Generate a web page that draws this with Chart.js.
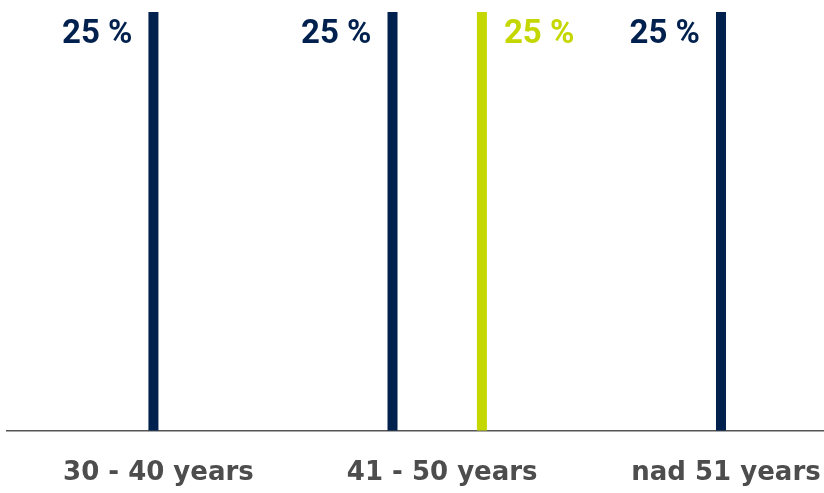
<!DOCTYPE html>
<html>
<head>
<meta charset="utf-8">
<script src="https://cdn.jsdelivr.net/npm/chart.js@4/dist/chart.umd.min.js"></script>
<style>
  html, body { margin: 0; padding: 0; background: #fff; }
  #wrap { width: 824px; height: 493px; }
</style>
</head>
<body>
<div id="wrap"><canvas id="myChart"></canvas></div>
<script>
// data
var categories = ['30 - 40 years', '41 - 50 years', 'nad 51 years'];
var navyValues = [25, 25, 25];
var greenValues = [null, 25, null];

var NAVY = '#00204e';
var GREEN = '#c5d700';

// "25 %" labels beside the top of each bar
var valueLabels = {
    id: 'valueLabels',
    afterDatasetsDraw: function (chart) {
        var ctx = chart.ctx;
        ctx.save();
        ctx.font = 'bold 33px Roboto';
        ctx.textBaseline = 'alphabetic';
        chart.data.datasets.forEach(function (ds, di) {
            var meta = chart.getDatasetMeta(di);
            meta.data.forEach(function (bar, i) {
                var v = ds.data[i].y;
                if (v == null) return;
                var onLeft = ds.labelSide === 'left';
                ctx.fillStyle = ds.backgroundColor;
                ctx.textAlign = onLeft ? 'right' : 'left';
                var x = onLeft ? bar.x - bar.width / 2 - 16 : bar.x + bar.width / 2 + 17;
                ctx.fillText(v + ' %', x, bar.y + 31);
            });
        });
        ctx.restore();
    }
};

var ctx = document.getElementById('myChart');
var myChart = new Chart(ctx, {
    type: 'bar',
    data: {
        datasets: [{
            data: categories.map(function (c, i) { return { x: i, y: navyValues[i] }; }),
            backgroundColor: NAVY,
            labelSide: 'left'
        }, {
            data: categories.map(function (c, i) { return { x: i, y: greenValues[i] }; }),
            backgroundColor: GREEN,
            labelSide: 'right'
        }]
    },
    options: {
        responsive: true,
        maintainAspectRatio: false,
        animation: false,
        layout: { padding: { top: 12, left: 7, right: 0, bottom: 2 } },
        datasets: {
            bar: {
                skipNull: true,
                categoryPercentage: 0.63,
                barPercentage: 0.5,
                maxBarThickness: 10,
                borderWidth: 0
            }
        },
        plugins: {
            legend: { display: false },
            tooltip: { enabled: false }
        },
        scales: {
            x: {
                type: 'linear',
                offset: false,
                min: -0.516,
                max: 2.363,
                afterBuildTicks: function (scale) {
                    scale.ticks = categories.map(function (c, i) { return { value: i }; });
                },
                grid: {
                    display: true,
                    drawOnChartArea: false,
                    drawTicks: true,
                    tickLength: 25,
                    color: 'rgba(0,0,0,0)'
                },
                border: { display: true, color: '#555', width: 1.5 },
                ticks: {
                    padding: 2,
                    labelOffset: 5,
                    maxRotation: 0,
                    autoSkip: false,
                    color: '#4d4d4d',
                    font: { family: 'DejaVu Sans', weight: 'bold', size: 26 },
                    callback: function (value) { return categories[value]; }
                }
            },
            y: {
                display: false,
                min: 0,
                max: 25,
                beginAtZero: true
            }
        }
    },
    plugins: [valueLabels]
});
</script>
</body>
</html>
